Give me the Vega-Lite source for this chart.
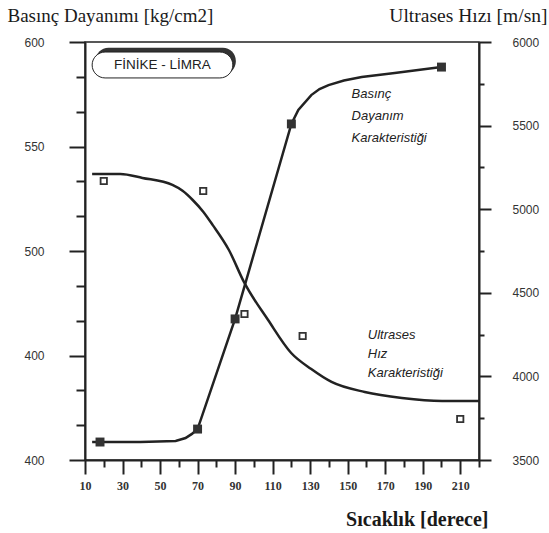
{
  "$schema": "https://vega.github.io/schema/vega-lite/v6.json",
  "width": 394,
  "height": 418,
  "autosize": "none",
  "padding": {"left": 85, "top": 42, "right": 70, "bottom": 73},
  "background": "white",
  "config": {
    "view": {"stroke": "#222", "strokeWidth": 1.5},
    "axis": {"grid": false, "domainColor": "#222", "domainWidth": 2, "tickColor": "#222", "tickWidth": 2, "labelColor": "#333", "titleColor": "#1a1a1a", "labelOverlap": false, "labelBound": false, "labelFlush": false, "tickCount": 200}
  },
  "datasets": {
    "basinc_curve": [
      {"x": 13.8, "v": 408.6}, {"x": 39.5, "v": 408.6}, {"x": 58.3, "v": 409.1}, {"x": 63.6, "v": 410.5},
      {"x": 67, "v": 412.5}, {"x": 70, "v": 414.8}, {"x": 90, "v": 467.5}, {"x": 120, "v": 560.8}, {"x": 123.7, "v": 567.5},
      {"x": 130.6, "v": 574.6}, {"x": 135, "v": 577.5}, {"x": 139.8, "v": 579.4}, {"x": 148, "v": 581.6}, {"x": 157.5, "v": 583.3}, {"x": 175.1, "v": 585.2},
      {"x": 200, "v": 588}
    ],
    "basinc_points": [
      {"x": 18, "v": 408.6}, {"x": 70, "v": 414.8}, {"x": 90, "v": 467.5}, {"x": 120, "v": 560.8}, {"x": 200, "v": 588}
    ],
    "ultrases_curve": [
      {"x": 13.8, "u": 5210}, {"x": 28.8, "u": 5210}, {"x": 40.6, "u": 5187}, {"x": 56.6, "u": 5145},
      {"x": 62, "u": 5110}, {"x": 67.4, "u": 5055}, {"x": 73, "u": 4985}, {"x": 78.1, "u": 4905}, {"x": 86.7, "u": 4756}, {"x": 94.7, "u": 4565},
      {"x": 107.6, "u": 4337}, {"x": 119.9, "u": 4140}, {"x": 130.6, "u": 4044}, {"x": 141.4, "u": 3967},
      {"x": 159.1, "u": 3907}, {"x": 178.9, "u": 3871}, {"x": 200.3, "u": 3853}, {"x": 220, "u": 3853}
    ],
    "ultrases_points": [
      {"x": 20, "u": 5169}, {"x": 73, "u": 5109}, {"x": 95, "u": 4373}, {"x": 126, "u": 4242}, {"x": 210, "u": 3745}
    ]
  },
  "layer": [
    {
      "layer": [
        {
          "data": {"name": "basinc_curve"},
          "mark": {"type": "line", "color": "#222", "strokeWidth": 2.5, "interpolate": "linear"},
          "encoding": {
            "x": {
              "field": "x", "type": "quantitative",
              "scale": {"domain": [10, 220], "nice": false, "zero": false},
              "axis": {
                "values": [10, 20, 30, 40, 50, 60, 70, 80, 90, 100, 110, 120, 130, 140, 150, 160, 170, 180, 190, 200, 210, 220],
                "tickCount": 200,
                "labelExpr": "datum.value % 20 == 10 ? datum.label : ''",
                "labelOverlap": false,
                "tickSize": {"condition": {"test": "datum.value % 20 == 10", "value": 14}, "value": 7},
                "labelFont": "Liberation Serif", "labelFontSize": 12, "labelFontWeight": "bold", "labelPadding": 6,
                "title": "Sıcaklık [derece]", "titleFont": "Liberation Serif", "titleFontSize": 20, "titleFontWeight": "bold",
                "titleAlign": "right", "titleBaseline": "middle", "titleX": 403, "titleY": 59
              }
            },
            "y": {
              "field": "v", "type": "quantitative",
              "scale": {"domain": [400, 600], "nice": false, "zero": false},
              "axis": {
                "orient": "left",
                "values": [400, 416.667, 433.333, 450, 466.667, 483.333, 500, 516.667, 533.333, 550, 566.667, 583.333, 600],
                "tickCount": 200,
                "labelExpr": "datum.value % 50 == 0 ? (datum.value == 450 ? '400' : datum.label) : ''",
                "labelOverlap": false,
                "tickSize": {"condition": {"test": "datum.value % 50 == 0", "value": 16}, "value": 9},
                "labelFont": "Liberation Sans", "labelFontSize": 12, "labelPadding": 25,
                "title": "Basınç Dayanımı [kg/cm2]", "titleFont": "Liberation Serif", "titleFontSize": 19, "titleFontWeight": "normal",
                "titleAngle": 0, "titleAlign": "left", "titleBaseline": "middle", "titleX": -78, "titleY": -27
              }
            }
          }
        },
        {
          "data": {"name": "basinc_points"},
          "mark": {"type": "point", "shape": "square", "filled": true, "color": "#333", "size": 80, "opacity": 1},
          "encoding": {"x": {"field": "x", "type": "quantitative"}, "y": {"field": "v", "type": "quantitative"}}
        },
        {
          "data": {"values": [{"label": "FİNİKE - LİMRA"}]},
          "mark": {"type": "rect", "fill": "#333", "cornerRadius": 13},
          "encoding": {"x": {"datum": 15.6, "type": "quantitative"}, "x2": {"datum": 90.4}, "y": {"datum": 597.2, "type": "quantitative"}, "y2": {"datum": 584.4}}
        },
        {
          "data": {"values": [{"label": "FİNİKE - LİMRA"}]},
          "mark": {"type": "rect", "fill": "white", "stroke": "#222", "strokeWidth": 1, "cornerRadius": 13},
          "encoding": {"x": {"datum": 13.8, "type": "quantitative"}, "x2": {"datum": 88.8}, "y": {"datum": 595.2, "type": "quantitative"}, "y2": {"datum": 582.8}}
        },
        {
          "data": {"values": [{"label": "FİNİKE - LİMRA"}]},
          "mark": {"type": "text", "font": "Liberation Sans", "fontSize": 13.5, "color": "#222", "align": "center", "baseline": "middle"},
          "encoding": {"text": {"field": "label"}, "x": {"datum": 51.3, "type": "quantitative"}, "y": {"datum": 589.0, "type": "quantitative"}}
        },
        {
          "data": {"values": [{"label": "Basınç"}]},
          "mark": {"type": "text", "text": ["Basınç", "Dayanım", "Karakteristiği"], "font": "Liberation Sans", "fontSize": 13, "fontStyle": "italic", "color": "#222", "align": "left", "baseline": "top", "lineHeight": 22},
          "encoding": {"x": {"datum": 152.1, "type": "quantitative"}, "y": {"datum": 578.0, "type": "quantitative"}}
        },
        {
          "data": {"values": [{"label": "Ultrases"}]},
          "mark": {"type": "text", "text": ["Ultrases", "Hız", "Karakteristiği"], "font": "Liberation Sans", "fontSize": 13, "fontStyle": "italic", "color": "#222", "align": "left", "baseline": "top", "lineHeight": 19},
          "encoding": {"x": {"datum": 160.7, "type": "quantitative"}, "y": {"datum": 462.7, "type": "quantitative"}}
        }
      ]
    },
    {
      "layer": [
        {
          "data": {"name": "ultrases_curve"},
          "mark": {"type": "line", "color": "#222", "strokeWidth": 2.5, "interpolate": "monotone"},
          "encoding": {
            "x": {"field": "x", "type": "quantitative"},
            "y": {
              "field": "u", "type": "quantitative",
              "scale": {"domain": [3500, 6000], "nice": false, "zero": false},
              "axis": {
                "orient": "right",
                "values": [3500, 3750, 4000, 4250, 4500, 4750, 5000, 5250, 5500, 5750, 6000],
                "tickCount": 200,
                "labelExpr": "datum.value % 500 == 0 ? datum.label : ''",
                "labelOverlap": false,
                "format": "d",
                "tickSize": {"condition": {"test": "datum.value % 500 == 0", "value": 12}, "value": 5},
                "labelFont": "Liberation Sans", "labelFontSize": 12, "labelPadding": 21,
                "title": "Ultrases Hızı [m/sn]", "titleFont": "Liberation Serif", "titleFontSize": 19.5, "titleFontWeight": "normal",
                "titleAngle": 0, "titleAlign": "right", "titleBaseline": "middle", "titleX": 68, "titleY": -27
              }
            }
          }
        },
        {
          "data": {"name": "ultrases_points"},
          "mark": {"type": "point", "shape": "square", "filled": true, "fill": "white", "stroke": "#333", "strokeWidth": 1.8, "size": 40, "opacity": 1},
          "encoding": {"x": {"field": "x", "type": "quantitative"}, "y": {"field": "u", "type": "quantitative"}}
        }
      ]
    }
  ],
  "resolve": {"scale": {"y": "independent"}}
}
